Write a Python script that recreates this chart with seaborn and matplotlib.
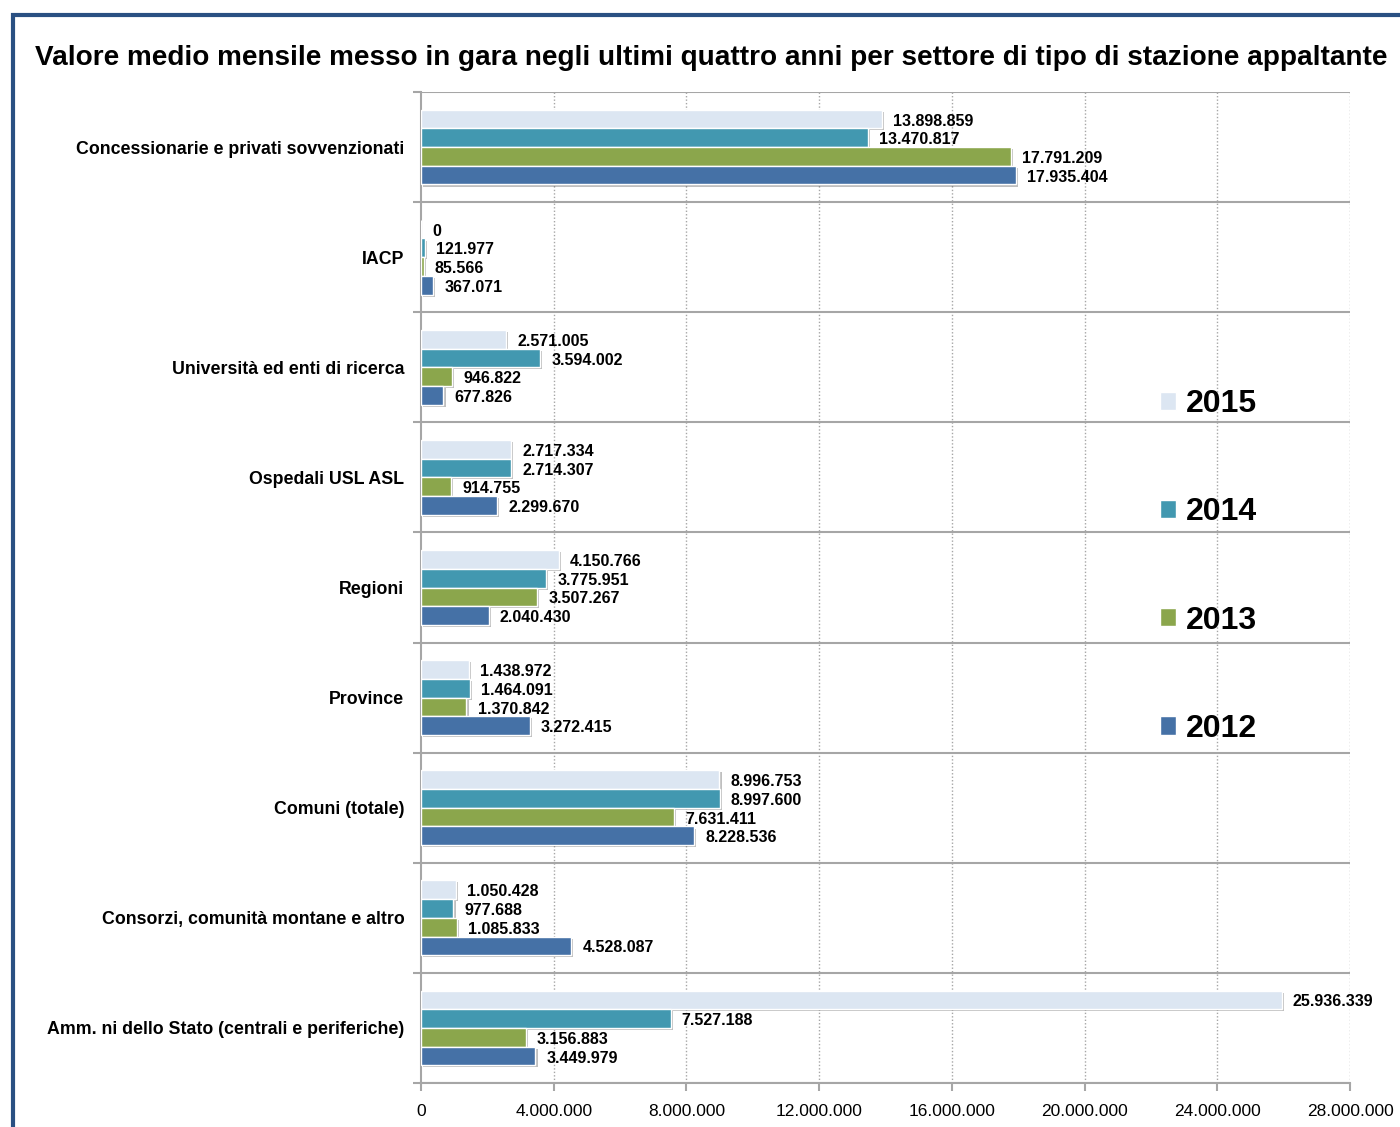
import numpy as np
import pandas as pd
import seaborn as sns
import matplotlib
matplotlib.use("Agg")
import matplotlib.pyplot as plt
from matplotlib.patches import Rectangle
import matplotlib.patheffects as pe

categories = [
    "Concessionarie e privati sovvenzionati",
    "IACP",
    "Università ed enti di ricerca",
    "Ospedali USL ASL",
    "Regioni",
    "Province",
    "Comuni (totale)",
    "Consorzi, comunità montane e altro",
    "Amm. ni dello Stato (centrali e periferiche)",
]
years = ["2015", "2014", "2013", "2012"]
v2015 = [13898859, 0, 2571005, 2717334, 4150766, 1438972, 8996753, 1050428, 25936339]
v2014 = [13470817, 121977, 3594002, 2714307, 3775951, 1464091, 8997600, 977688, 7527188]
v2013 = [17791209, 85566, 946822, 914755, 3507267, 1370842, 7631411, 1085833, 3156883]
v2012 = [17935404, 367071, 677826, 2299670, 2040430, 3272415, 8228536, 4528087, 3449979]
xticks = [0, 4000000, 8000000, 12000000, 16000000, 20000000, 24000000, 28000000]
title = "Valore medio mensile messo in gara negli ultimi quattro anni per settore di tipo di stazione appaltante"

colors = {"2015": "#dce6f2", "2014": "#4298b0", "2013": "#8ba64c", "2012": "#4571a6"}

def itfmt(v):
    return f"{int(v):,}".replace(",", ".")

rows = []
for y, vals in zip(years, [v2015, v2014, v2013, v2012]):
    for c, v in zip(categories, vals):
        rows.append({"Settore": c, "Anno": y, "Valore": v})
df = pd.DataFrame(rows)

sns.set_theme(style="white")
plt.rcParams["font.family"] = ["Liberation Sans", "DejaVu Sans"]
plt.rcParams["text.color"] = "black"
plt.rcParams["xtick.color"] = "black"
plt.rcParams["ytick.color"] = "black"
plt.rcParams["axes.labelcolor"] = "black"

fig = plt.figure(figsize=(14, 11.27), dpi=100)
W, H = 1400, 1127
ax = fig.add_axes([421 / W, 1 - 1083 / H, (1350 - 421) / W, (1083 - 92) / H])

# figure border (dark blue, left/top)
fig.patches.append(Rectangle((13 / W, -0.05), 1.2, 1 - 15 / H + 0.05, transform=fig.transFigure,
                             fill=False, edgecolor="#2a5082", linewidth=3, zorder=0))

ax.set_axisbelow(True)
for x in xticks[1:]:
    ax.axvline(x, color="#a6a6a6", linestyle=(0, (1, 1.5)), linewidth=1, zorder=0)

sns.barplot(data=df, y="Settore", x="Valore", hue="Anno", hue_order=years, order=categories,
            palette=colors, saturation=1, orient="h", width=0.68, gap=0, edgecolor="white",
            linewidth=1, errorbar=None, ax=ax, zorder=3)

shadow = [pe.SimplePatchShadow(offset=(1.5, -1.5), shadow_rgbFace="#000000", alpha=0.25), pe.Normal()]
for cont in ax.containers:
    for p in cont:
        p.set_path_effects(shadow)
    vals = [p.get_width() for p in cont]
    txts = ax.bar_label(cont, labels=[itfmt(v) for v in vals], padding=8, fontsize=11.5,
                        fontweight="bold", color="#000000")
    for t in txts:
        t.set_va("center")
        xo, yo = t.xyann
        t.xyann = (xo, yo - 1.5)

# separators
for b in np.arange(-0.5, len(categories), 1.0):
    ax.axhline(b, color="#a6a6a6", linewidth=1.5, zorder=1)

ax.set_xlim(0, 28000000)
ax.set_ylim(len(categories) - 0.5, -0.5)
ax.set_xticks(xticks)
ax.set_xticklabels([itfmt(x) for x in xticks], fontsize=12.5)
ax.set_yticks(range(len(categories)))
ax.set_yticklabels(categories, fontsize=12.8, fontweight="bold")
ax.set_yticks(np.arange(-0.5, len(categories), 1.0), minor=True)
ax.tick_params(axis="y", which="major", length=0, pad=12)
ax.tick_params(axis="y", which="minor", length=6, width=1.5, color="#a6a6a6", direction="out", left=True)
ax.tick_params(axis="x", length=6, width=1.5, color="#a6a6a6", labelcolor="black",
               direction="out", bottom=True, pad=9)
ax.set_xlabel("")
ax.set_ylabel("")
for s in ["top", "right"]:
    ax.spines[s].set_visible(False)
for s in ["left", "bottom"]:
    ax.spines[s].set_color("#a6a6a6")
    ax.spines[s].set_linewidth(1.5)

handles, labels = ax.get_legend_handles_labels()
ax.get_legend().remove()
leg = ax.legend(handles, labels, loc="upper left", bbox_to_anchor=(1160 / W, 1 - 389 / H),
                bbox_transform=fig.transFigure, frameon=False, borderpad=0, borderaxespad=0,
                handlelength=0.5, handleheight=0.5, handletextpad=0.3, labelspacing=2.45,
                prop={"size": 23, "weight": "bold"})

fig.text(35 / W, 1 - 58 / H, title, fontsize=20.1, fontweight="bold", ha="left", va="center")

fig.savefig("out.png", dpi=100)
